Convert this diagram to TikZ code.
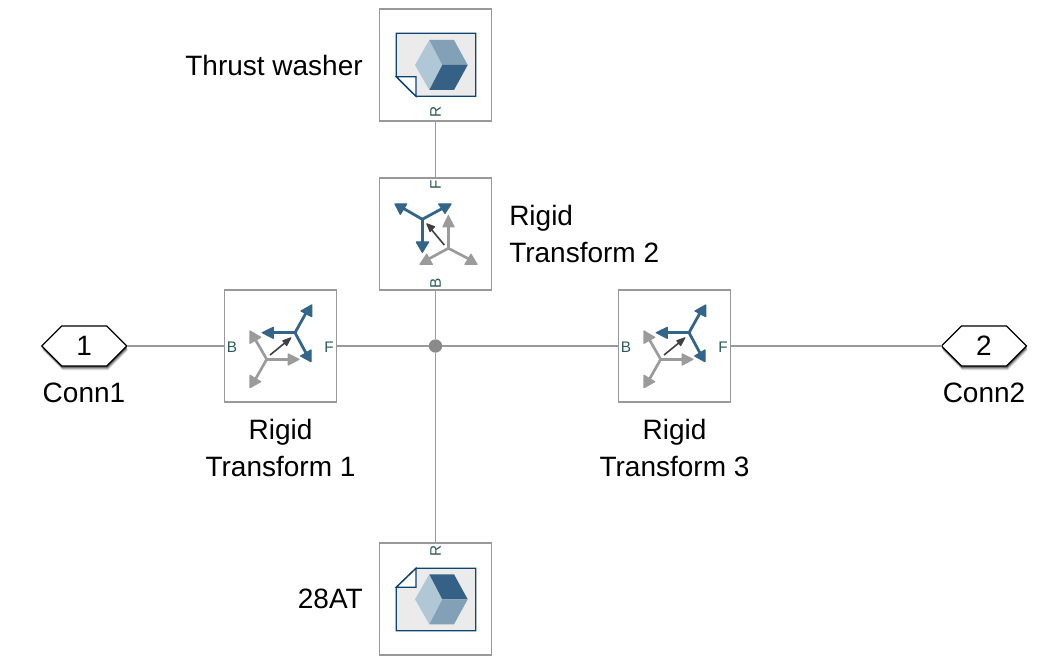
\documentclass[tikz,border=0pt]{standalone}
\usepackage{fontspec}
\setmainfont{Liberation Sans}
\usetikzlibrary{arrows.meta,shapes.symbols}
\definecolor{blockline}{HTML}{999999}
\definecolor{portink}{HTML}{2F5A5E}
\definecolor{bluearm}{HTML}{33658A}
\definecolor{greyarm}{HTML}{9B9B9B}
\definecolor{blackarm}{HTML}{404040}
\definecolor{doceg}{HTML}{0F4470}
\definecolor{docfill}{HTML}{EBEBEB}
\definecolor{cubelight}{HTML}{B0C8D6}
\definecolor{cubemid}{HTML}{83A1B6}
\definecolor{cubedark}{HTML}{346185}
\tikzset{
  block/.style={draw=blockline,line width=1.25pt,fill=white,minimum size=84pt,inner sep=0pt,outer sep=0pt},
  wire/.style={draw=blockline,line width=1.1pt},
  port/.style={text=portink,font=\fontsize{11.5}{12}\selectfont,inner sep=0pt},
  lab/.style={font=\fontsize{21}{27.75}\selectfont,inner sep=0pt,align=center},
  labl/.style={font=\fontsize{21}{27.75}\selectfont,inner sep=0pt,align=left},
  hexa/.style={signal,signal to=east and west,signal pointer angle=90,minimum width=63.75pt,minimum height=30pt,inner sep=0pt,outer sep=0pt},
  bluea/.style={draw=bluearm,line width=2.1pt},
  greya/.style={draw=greyarm,line width=2pt},
  blacka/.style={draw=blackarm,line width=1.2pt},
  bluet/.style={fill=bluearm,draw=bluearm,line width=0.9pt,line join=round},
  greyt/.style={fill=greyarm,draw=greyarm,line width=0.9pt,line join=round},
  blackt/.style={fill=blackarm,draw=blackarm,line width=0.7pt,line join=round},
  docedge/.style={draw=doceg,line width=1pt,line join=miter}
}
\newcommand{\sideicon}{%
  \draw[greya] (266.7,359.3) -- (255,339);
  \draw[greya] (266.7,359.3) -- (290,359.3);
  \draw[greya] (266.7,359.3) -- (255,380);
  \filldraw[greyt] (299,359.3) -- (288.3,354) -- (288.3,365) -- cycle;
  \filldraw[greyt] (250,331) -- (250,343.3) -- (260.7,337.3) -- cycle;
  \filldraw[greyt] (250,387.7) -- (250,375.3) -- (260.7,381.7) -- cycle;
  \draw[bluea] (295,332.7) -- (271,332.7);
  \draw[bluea] (295,332.7) -- (306,313);
  \draw[bluea] (295,332.7) -- (306,353);
  \filldraw[bluet] (262.3,332.7) -- (273.3,327.3) -- (273.3,338.3) -- cycle;
  \filldraw[bluet] (311.7,305) -- (311.7,316.7) -- (301,311) -- cycle;
  \filldraw[bluet] (311,361.7) -- (311,350) -- (300.7,356) -- cycle;
  \draw[blacka] (270,355) -- (286,342);
  \filldraw[blackt] (291,337.7) -- (282.7,340.7) -- (286.7,345.7) -- cycle;
}
\newcommand{\hexshadow}[1]{%
  \foreach \d/\o in {4.5/0.1,3.5/0.18,2.5/0.28,1.5/0.38}{
    \node[hexa,fill=black,opacity=\o] at ([xshift=0.25*\d*0.75pt,yshift=-\d*0.75pt]#1) {};
  }
}
\begin{document}
\begin{tikzpicture}[x=0.75pt,y=-0.75pt]
\useasboundingbox (0,0) rectangle (1060,666);
% nodes
\node[block] (tw) at (435.5,65) {};
\node[block] (r2) at (435.5,234) {};
\node[block] (r1) at (280.5,346) {};
\node[block] (r3) at (674.5,346) {};
\node[block] (at) at (435.5,599) {};
\coordinate (c1pos) at (84.2,346);
\coordinate (c2pos) at (984,346);
\hexshadow{c1pos}
\hexshadow{c2pos}
\node[hexa,draw=black,line width=1pt,fill=white,font=\fontsize{21}{25}\selectfont] (c1) at (c1pos) {1};
\node[hexa,draw=black,line width=1pt,fill=white,font=\fontsize{21}{25}\selectfont] (c2) at (c2pos) {2};
\node[circle,fill=blockline!90!black,minimum size=10pt,inner sep=0pt] (j) at (435.5,346) {};
% connectors
\draw[wire] (tw.south) -- (r2.north);
\draw[wire] (r2.south) -- (j);
\draw[wire] (j) -- (at.north);
\draw[wire] (r1.east) -- (j);
\draw[wire] (j) -- (r3.west);
\draw[wire] (c1.east) -- (r1.west);
\draw[wire] (r3.east) -- (c2.west);
% ports
\node[port,rotate=90] (twR) at (435.5,112) {R};
\node[port,rotate=90] (r2F) at (435.5,185) {F};
\node[port,rotate=90] (r2B) at (435.5,283) {B};
\node[port,rotate=90] (atR) at (435.5,551) {R};
\node[port] (r1B) at (232,347) {B};
\node[port] (r1F) at (329,347) {F};
\node[port] (r3B) at (626,347) {B};
\node[port] (r3F) at (723,347) {F};
% labels
\node[lab,anchor=east] (twl) at (363,65) {Thrust washer};
\node[lab,anchor=east] (atl) at (363,599) {28AT};
\node[labl,anchor=west] (r2l) at (509,234) {Rigid\\Transform 2};
\node[lab] (r1l) at (280.5,448) {Rigid\\Transform 1};
\node[lab] (r3l) at (674.5,448) {Rigid\\Transform 3};
\node[lab] (c1l) at (84,393) {Conn1};
\node[lab] (c2l) at (984,393) {Conn2};
% thrust washer icon
\draw[docedge,fill=docfill] (396.3,33.3) -- (475.7,33.3) -- (475.7,96.3) -- (416,96.3) -- (396.3,76.7) -- cycle;
\draw[docedge,fill=white] (396.3,76.7) -- (416,76.7) -- (416,96.3) -- cycle;
\fill[cubelight] (415,65) -- (429.3,40) -- (442.3,65) -- (429.3,90) -- cycle;
\fill[cubemid] (429.3,40) -- (454,40) -- (467.7,65) -- (442.3,65) -- cycle;
\fill[cubedark] (442.3,65) -- (467.7,65) -- (454,90) -- (429.3,90) -- cycle;
% 28AT icon
\draw[docedge,fill=docfill] (416,568.3) -- (475.7,568.3) -- (475.7,630.7) -- (396.3,630.7) -- (396.3,587.3) -- cycle;
\draw[docedge,fill=white] (396.3,587.3) -- (416,568.3) -- (416,587.3) -- cycle;
\fill[cubelight] (415,599.3) -- (429.3,574.3) -- (442.3,599.3) -- (429.3,624.3) -- cycle;
\fill[cubedark] (429.3,574.3) -- (454,574.3) -- (467.7,599.3) -- (442.3,599.3) -- cycle;
\fill[cubemid] (442.3,599.3) -- (467.7,599.3) -- (454,624.3) -- (429.3,624.3) -- cycle;
% rigid transform 2 icon
\draw[greya] (448.3,248.3) -- (448.3,224);
\draw[greya] (448.3,248.3) -- (426.7,260);
\draw[greya] (448.3,248.3) -- (471,260);
\filldraw[greyt] (448.3,215.7) -- (443,226.7) -- (454,226.7) -- cycle;
\filldraw[greyt] (420,264.3) -- (432.3,264.3) -- (426.7,254.3) -- cycle;
\filldraw[greyt] (465,264.3) -- (477,264.3) -- (471,254.3) -- cycle;
\draw[bluea] (422.3,219.3) -- (401,207);
\draw[bluea] (422.3,219.3) -- (445,207);
\draw[bluea] (422.3,219.3) -- (422.3,244);
\filldraw[bluet] (395,204) -- (406.7,204) -- (400.3,214.3) -- cycle;
\filldraw[bluet] (438.7,204) -- (451,204) -- (445,213.3) -- cycle;
\filldraw[bluet] (416.3,242) -- (428.7,242) -- (422.3,252.3) -- cycle;
\draw[blacka] (444.3,245) -- (431,229);
\filldraw[blackt] (426.7,223.7) -- (434.7,226.7) -- (430,231.7) -- cycle;
% rigid transform 1 and 3 icons
\sideicon
\begin{scope}[shift={(394,0)}]
\sideicon
\end{scope}
\end{tikzpicture}
\end{document}
